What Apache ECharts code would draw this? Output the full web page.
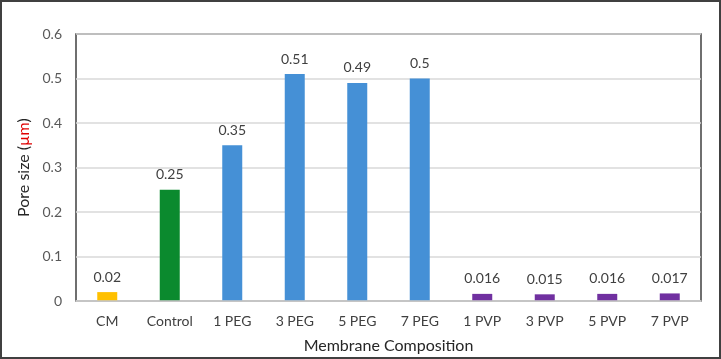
<!DOCTYPE html>
<html>
<head>
<meta charset="utf-8">
<script src="https://cdn.jsdelivr.net/npm/echarts@6/dist/echarts.min.js"></script>
<style>
  html, body { margin: 0; padding: 0; background: #fff; }
  #chart { width: 721px; height: 359px; }
</style>
</head>
<body>
<div id="chart"></div>
<script>
  // membranes on the x axis
  var categories = ['CM', 'Control', '1 PEG', '3 PEG', '5 PEG', '7 PEG', '1 PVP', '3 PVP', '5 PVP', '7 PVP'];
  // pore size in um
  var poreSize = [0.02, 0.25, 0.35, 0.51, 0.49, 0.5, 0.016, 0.015, 0.016, 0.017];
  var barColors = ['#FFC000', '#0B8A2E', '#4590D6', '#4590D6', '#4590D6', '#4590D6', '#7030A0', '#7030A0', '#7030A0', '#7030A0'];
  var yTicks = [0, 0.1, 0.2, 0.3, 0.4, 0.5, 0.6];

  var font = 'Lato, "Open Sans", sans-serif';
  var chart = echarts.init(document.getElementById('chart'));

  var option = {
    animation: false,
    textStyle: { fontFamily: font },
    graphic: [{
      type: 'rect',
      shape: { x: 1, y: 1, width: 719, height: 357 },
      style: { fill: 'none', stroke: '#404040', lineWidth: 2 },
      silent: true
    }],
    grid: {
      left: 76, top: 34, right: 20, bottom: 56,
      show: true, borderColor: '#404040', borderWidth: 1.5, backgroundColor: 'transparent'
    },
    xAxis: {
      type: 'category',
      data: categories,
      axisTick: { show: false },
      axisLine: { lineStyle: { color: '#c8c8c8', width: 1.5 } },
      axisLabel: { color: '#404040', fontSize: 14, margin: 13, fontFamily: font },
      name: 'Membrane Composition',
      nameLocation: 'middle',
      nameGap: 37,
      nameTextStyle: { color: '#262626', fontSize: 16, fontFamily: font },
      z: 5
    },
    yAxis: {
      type: 'value',
      min: yTicks[0],
      max: yTicks[yTicks.length - 1],
      interval: 0.1,
      axisLine: { show: false },
      axisTick: { show: false },
      splitLine: { lineStyle: { color: '#d9d9d9', width: 1.5 } },
      axisLabel: { color: '#595959', fontSize: 14, margin: 14, fontFamily: font,
        formatter: function (v) { return String(Math.round(v * 10) / 10); } },
      name: '{a|Pore size (}{b|\u00B5m}{a|)}',
      nameLocation: 'middle',
      nameRotate: 90,
      nameGap: 42,
      nameTextStyle: {
        rich: {
          a: { color: '#262626', fontSize: 16, fontFamily: font },
          b: { color: '#E00000', fontSize: 16, fontFamily: font }
        }
      }
    },
    series: [{
      type: 'bar',
      data: poreSize.map(function (v, i) {
        return { value: v, itemStyle: { color: barColors[i] } };
      }),
      barWidth: '32%',
      label: {
        show: true,
        position: 'top',
        distance: 8,
        color: '#404040',
        fontSize: 14,
        fontFamily: font
      }
    }]
  };

  chart.setOption(option);
</script>
</body>
</html>
